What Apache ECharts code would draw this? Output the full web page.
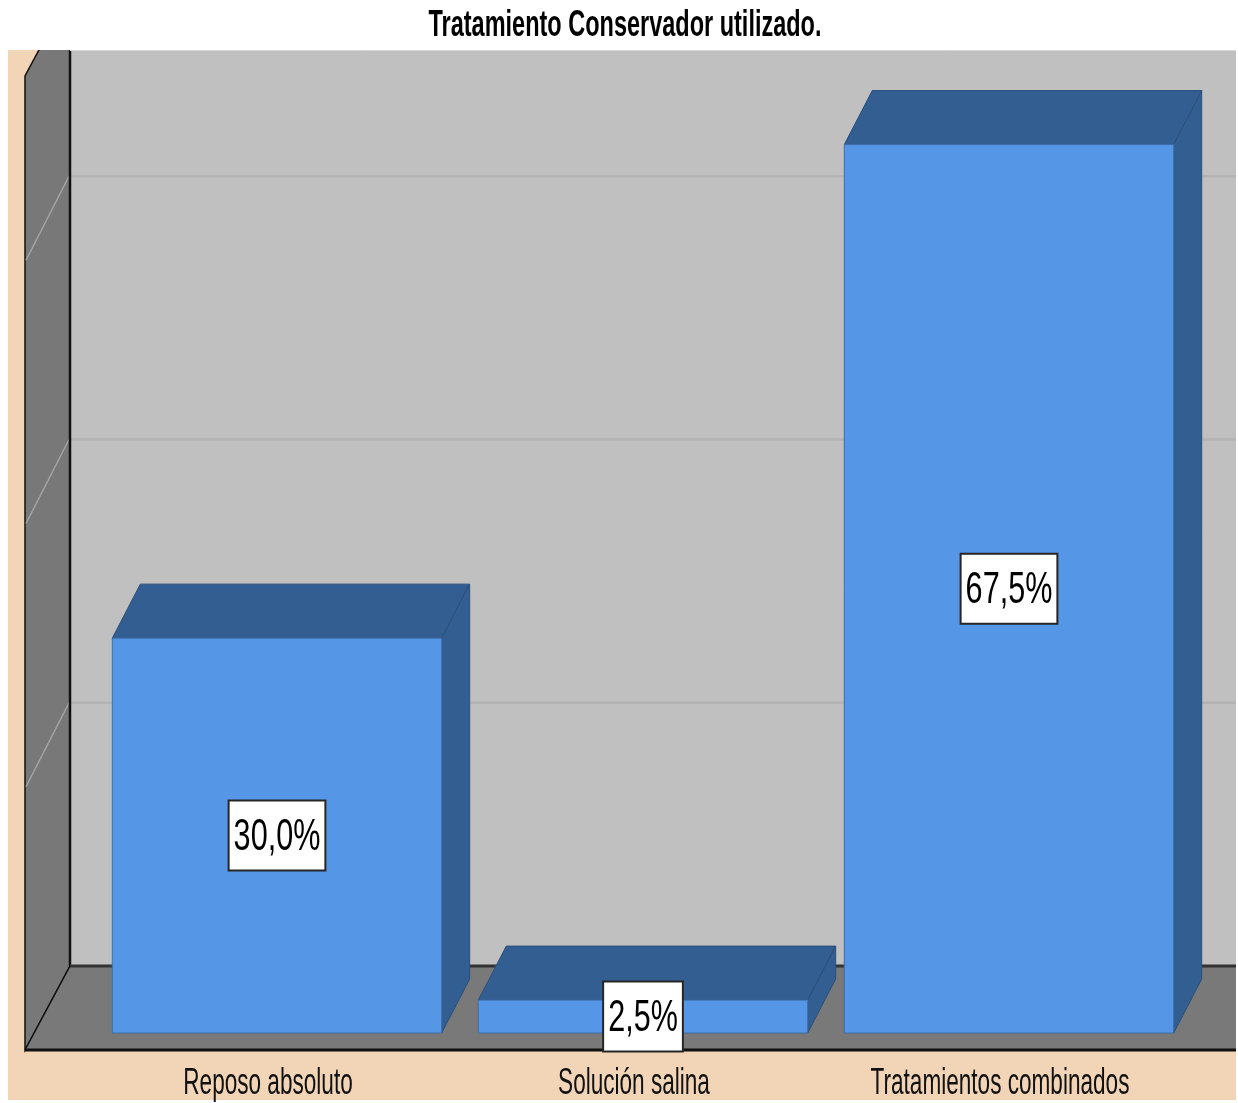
<!DOCTYPE html>
<html>
<head>
<meta charset="utf-8">
<title>Tratamiento Conservador utilizado.</title>
<script src="https://cdn.jsdelivr.net/npm/echarts@6/dist/echarts.min.js"></script>
<style>
  html, body { margin: 0; padding: 0; background: #ffffff; }
  #chart { width: 1238px; height: 1103px; }
</style>
</head>
<body>
<div id="chart"></div>
<script>
// Categories and their percentages
const categories = ['Reposo absoluto', 'Solución salina', 'Tratamientos combinados'];
const percentages = [30.0, 2.5, 67.5];
// Reference lines drawn on the walls (percent)
const gridValues = [20, 40, 60];
const titleText = 'Tratamiento Conservador utilizado.';

// Styling
const FONT = '"Liberation Sans", Arial, sans-serif';
const FRONT = { dx: -9, dy: 17 };     // floor front edge relative to bar plane
const BACK = { dx: 36, dy: -67 };     // back wall relative to bar plane
const DEPTH = { dx: 28, dy: -54 };    // bar depth
const C = {
  peach: '#f2d4b7', backWall: '#c0c0c0', backGrid: '#b3b3b3',
  sideWall: '#787878', sideGrid: '#a4a4a4', floor: '#797979',
  edge: '#111111', barFront: '#5596e6', barDark: '#335e91',
  barEdge: '#2b4f7c'
};

const measureCtx = document.createElement('canvas').getContext('2d');
function textWidth(text, font) {
  measureCtx.font = font;
  return measureCtx.measureText(text).width;
}
function fmtPct(v) {
  return v.toFixed(1).replace('.', ',') + '%';
}

function renderFrame(params, api) {
  const cs = params.coordSys;
  const baseY = api.coord([0, 0])[1];
  const topY = cs.y;
  const wallX = cs.x - 60;
  const rightX = api.getWidth() - 2;
  const fx = wallX + FRONT.dx, bx = wallX + BACK.dx;
  const children = [];
  // back wall
  children.push({ type: 'rect', shape: { x: bx, y: topY + BACK.dy, width: rightX - bx, height: baseY - topY },
    style: { fill: C.backWall } });
  gridValues.forEach(v => {
    const y = api.coord([0, v])[1];
    children.push({ type: 'line', shape: { x1: bx, y1: y + BACK.dy, x2: rightX, y2: y + BACK.dy },
      style: { stroke: C.backGrid, lineWidth: 2.5 } });
  });
  // left wall
  children.push({ type: 'polygon', shape: { points: [
      [fx, baseY + FRONT.dy], [fx, topY + FRONT.dy], [bx, topY + BACK.dy], [bx, baseY + BACK.dy]] },
    style: { fill: C.sideWall, stroke: C.edge, lineWidth: 1.5 } });
  gridValues.forEach(v => {
    const y = api.coord([0, v])[1];
    children.push({ type: 'line', shape: { x1: fx + 1, y1: y + FRONT.dy, x2: bx - 1, y2: y + BACK.dy },
      style: { stroke: C.sideGrid, lineWidth: 1.5 } });
  });
  children.push({ type: 'line', shape: { x1: bx, y1: topY + BACK.dy, x2: bx, y2: baseY + BACK.dy },
    style: { stroke: C.edge, lineWidth: 2.5 } });
  // floor
  children.push({ type: 'polygon', shape: { points: [
      [fx, baseY + FRONT.dy], [bx, baseY + BACK.dy], [rightX, baseY + BACK.dy], [rightX, baseY + FRONT.dy]] },
    style: { fill: C.floor } });
  children.push({ type: 'line', shape: { x1: bx, y1: baseY + BACK.dy, x2: rightX, y2: baseY + BACK.dy },
    style: { stroke: '#333333', lineWidth: 3 } });
  children.push({ type: 'line', shape: { x1: fx, y1: baseY + FRONT.dy, x2: bx, y2: baseY + BACK.dy },
    style: { stroke: C.edge, lineWidth: 1.5 } });
  children.push({ type: 'line', shape: { x1: fx, y1: baseY + FRONT.dy, x2: rightX, y2: baseY + FRONT.dy },
    style: { stroke: C.edge, lineWidth: 3 } });
  return { type: 'group', children: children };
}

function renderBar(params, api) {
  const i = api.value(0), v = api.value(1);
  const top = api.coord([i, v]);
  const base = api.coord([i, 0]);
  const w = api.size([1, 0])[0] * 0.9;
  const cx = top[0];
  const x0 = cx - w / 2, x1 = cx + w / 2;
  const yT = top[1], yB = base[1];
  const label = fmtPct(v);
  const labelFont = 45, labelScale = 0.68;
  const boxW = textWidth(label, labelFont + 'px ' + FONT) * labelScale + 10;
  const boxH = 70;
  const cy = (yT + yB) / 2;
  return {
    type: 'group',
    children: [
      { type: 'polygon', shape: { points: [[x0, yT], [x1, yT], [x1 + DEPTH.dx, yT + DEPTH.dy], [x0 + DEPTH.dx, yT + DEPTH.dy]] },
        style: { fill: C.barDark, stroke: C.barEdge, lineWidth: 1 } },
      { type: 'polygon', shape: { points: [[x1, yT], [x1 + DEPTH.dx, yT + DEPTH.dy], [x1 + DEPTH.dx, yB + DEPTH.dy], [x1, yB]] },
        style: { fill: C.barDark, stroke: C.barEdge, lineWidth: 1 } },
      { type: 'rect', shape: { x: x0, y: yT, width: w, height: yB - yT },
        style: { fill: C.barFront, stroke: '#3d6ea8', lineWidth: 1 } },
      { type: 'rect', shape: { x: cx - boxW / 2, y: cy - boxH / 2, width: boxW, height: boxH },
        style: { fill: '#ffffff', stroke: '#262626', lineWidth: 2 } },
      { type: 'text', x: cx, y: cy + 2, scaleX: labelScale,
        style: { text: label, fontSize: labelFont, fontFamily: FONT, fill: '#000000',
                 align: 'center', verticalAlign: 'middle', textAlign: 'center', textVerticalAlign: 'middle' } },
      { type: 'text', x: cx + FRONT.dx, y: yB + 51, scaleX: 0.61,
        style: { text: categories[i], fontSize: 37, fontFamily: FONT, fill: '#111111',
                 align: 'center', verticalAlign: 'middle', textAlign: 'center', textVerticalAlign: 'middle' } }
    ]
  };
}

const chart = echarts.init(document.getElementById('chart'), null, { renderer: 'canvas' });
chart.setOption({
  backgroundColor: '#ffffff',
  animation: false,
  grid: { left: 94, right: 46, top: 59, bottom: 70 },
  xAxis: { type: 'category', data: categories, show: false },
  yAxis: { type: 'value', min: 0, max: 74, interval: 20, show: false },
  graphic: [
    { type: 'rect', z: 0, shape: { x: 8, y: 50, width: 1228, height: 1050 }, style: { fill: C.peach } },
    { type: 'rect', z: 100, shape: { x: 0, y: 0, width: 1238, height: 50 }, style: { fill: '#ffffff' } },
    { type: 'line', z: 100, shape: { x1: 70, y1: 50.5, x2: 1236, y2: 50.5 }, style: { stroke: '#d8d8d8', lineWidth: 1 } },
    { type: 'text', z: 101, x: 625, y: 26, scaleX: 0.635,
      style: { text: titleText, fontSize: 37, fontWeight: 'bold', fontFamily: FONT, fill: '#000000',
               align: 'center', verticalAlign: 'middle', textAlign: 'center', textVerticalAlign: 'middle' } }
  ],
  series: [
    { type: 'custom', z: 1, silent: true, renderItem: renderFrame, data: [[0, 0]], encode: { x: 0, y: 1 } },
    { type: 'custom', z: 2, renderItem: renderBar, data: percentages.map((v, i) => [i, v]), encode: { x: 0, y: 1 } }
  ]
});
</script>
</body>
</html>
